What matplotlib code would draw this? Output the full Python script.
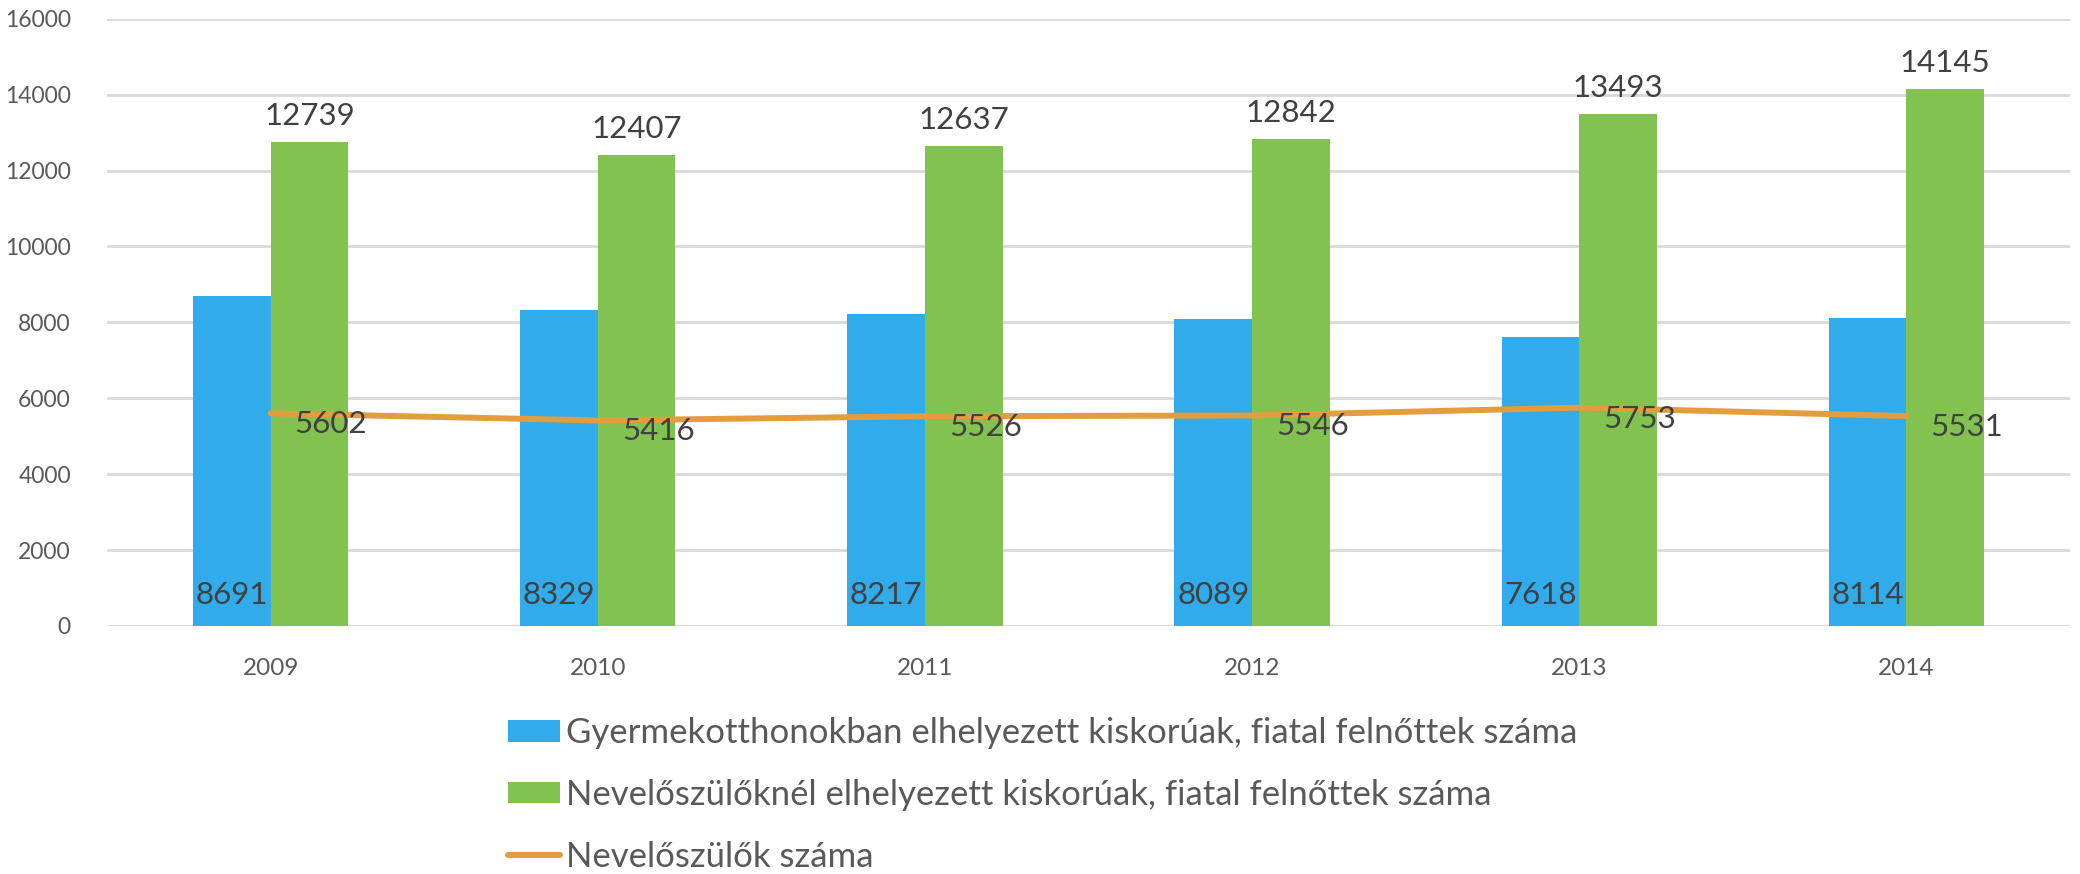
import matplotlib
matplotlib.use("Agg")
import matplotlib.pyplot as plt
import numpy as np
from matplotlib.patches import Patch
from matplotlib.lines import Line2D

years = ["2009", "2010", "2011", "2012", "2013", "2014"]
gyermekotthon = [8691, 8329, 8217, 8089, 7618, 8114]
nevelo_kiskoru = [12739, 12407, 12637, 12842, 13493, 14145]
nevelo_szulok = [5602, 5416, 5526, 5546, 5753, 5531]
yticks = [0, 2000, 4000, 6000, 8000, 10000, 12000, 14000, 16000]

labels = [
    "Gyermekotthonokban elhelyezett kiskorúak, fiatal felnőttek száma",
    "Nevelőszülőknél elhelyezett kiskorúak, fiatal felnőttek száma",
    "Nevelőszülők száma",
]

BLUE = "#32ABEA"
GREEN = "#82C250"
ORANGE = "#E39D3E"
GRID = "#D9D9D9"
TXT = "#404040"
TICK = "#595959"
FONT = ["Lato", "DejaVu Sans"]
plt.rcParams["font.family"] = FONT

fig = plt.figure(figsize=(20.8, 8.74), dpi=100)
ax = fig.add_axes([107/2080, 1-626/874, (2070-107)/2080, (626-18.7)/874])

x = np.arange(len(years))
w = 0.2373
ax.bar(x - w/2, gyermekotthon, w, color=BLUE, zorder=2)
ax.bar(x + w/2, nevelo_kiskoru, w, color=GREEN, zorder=2)
ax.plot(x, nevelo_szulok, color=ORANGE, lw=4.3, solid_capstyle="round", zorder=3)

ax.set_xlim(-0.5, len(years) - 0.5)
ax.set_ylim(0, 16000)
ax.set_yticks(yticks, [str(t) for t in yticks], fontsize=16.5, color=TICK)
ax.set_xticks(x, years, fontsize=17.5, color=TICK)
ax.yaxis.grid(True, color=GRID, lw=2)
ax.set_axisbelow(True)
for s in ax.spines.values():
    s.set_visible(False)
ax.tick_params(axis="both", length=0)
ax.tick_params(axis="y", pad=26)
ax.tick_params(axis="x", pad=23)

fs = 22.5
for xi, v in zip(x, gyermekotthon):
    ax.annotate(str(v), (xi - w/2, 0), xytext=(0, 22), textcoords="offset pixels",
                ha="center", va="baseline", fontsize=fs, color=TXT, zorder=4)
for xi, v in zip(x, nevelo_kiskoru):
    ax.annotate(str(v), (xi + w/2, v), xytext=(0, 17), textcoords="offset pixels",
                ha="center", va="baseline", fontsize=fs, color=TXT, zorder=4)
for xi, v in zip(x, nevelo_szulok):
    ax.annotate(str(v), (xi, v), xytext=(24, -11), textcoords="offset pixels",
                ha="left", va="center", fontsize=fs, color=TXT, zorder=4)

handles = [
    Patch(facecolor=BLUE, edgecolor="none"),
    Patch(facecolor=GREEN, edgecolor="none"),
    Line2D([0], [1], color=ORANGE, lw=4.3, solid_capstyle="round"),
]
leg = fig.legend(handles, labels, loc="upper left", bbox_to_anchor=(508/2080, 1-717/874),
                 frameon=False, borderpad=0, borderaxespad=0,
                 prop={"size": 25},
                 handlelength=1.5, handleheight=0.58, handletextpad=0.18, labelspacing=0.86)
for t in leg.get_texts():
    t.set_color(TICK)

fig.savefig("out.png", dpi=100)
